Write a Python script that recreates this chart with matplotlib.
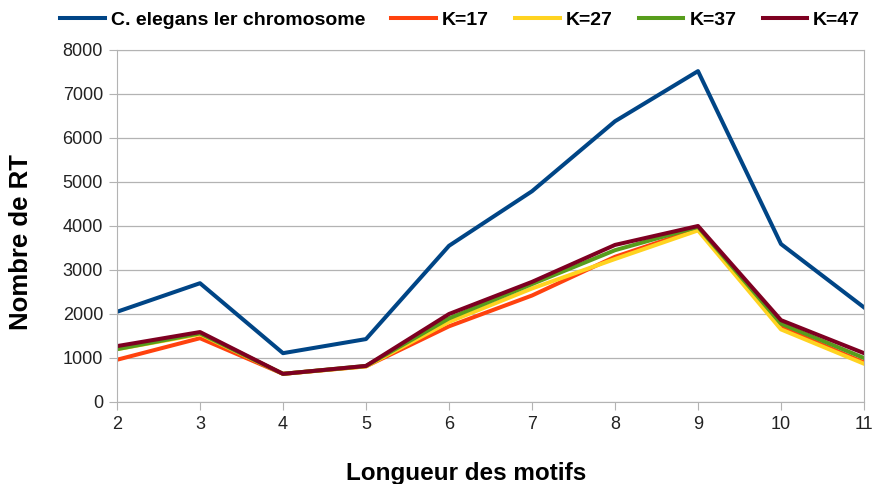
import matplotlib.pyplot as plt

plt.rcParams['font.family'] = ['Liberation Sans', 'DejaVu Sans']

# data
# ---

longueur = [2, 3, 4, 5, 6, 7, 8, 9, 10, 11]

celegans = [2050, 2700, 1110, 1430, 3550, 4790, 6380, 7520, 3590, 2150]
k17 = [960, 1450, 640, 810, 1720, 2420, 3300, 3930, 1700, 900]
k27 = [1200, 1540, 640, 810, 1820, 2580, 3250, 3900, 1650, 870]
k37 = [1200, 1560, 640, 820, 1900, 2680, 3450, 3980, 1780, 1000]
k47 = [1270, 1590, 640, 820, 2000, 2730, 3570, 4000, 1860, 1110]

series = [
    ("C. elegans Ier chromosome", celegans, "#004586"),
    ("K=17", k17, "#ff420e"),
    ("K=27", k27, "#ffd320"),
    ("K=37", k37, "#579d1c"),
    ("K=47", k47, "#7e0021"),
]

# plot
# ---

fig = plt.figure(figsize=(8.73, 4.84), dpi=100)
ax = fig.add_axes([117 / 873, 1 - 402 / 484, (864 - 117) / 873, (402 - 50) / 484])

for label, vals, color in series:
    ax.plot(longueur, vals, color=color, linewidth=2.9, label=label)

ax.set_xlim(2, 11)
ax.set_ylim(0, 8000)
ax.set_xticks(longueur)
ax.set_yticks(range(0, 8001, 1000))
ax.grid(axis='y', color='#b3b3b3', linewidth=0.9)
ax.set_axisbelow(True)
for side in ['top', 'right', 'left', 'bottom']:
    ax.spines[side].set_color('#b3b3b3')
ax.tick_params(axis='both', colors='#b3b3b3', labelcolor='#222222', labelsize=13,
               length=6, pad=4)

ax.set_xlabel("Longueur des motifs", fontsize=17.5, fontweight='bold')
ax.set_ylabel("Nombre de RT", fontsize=18.5, fontweight='bold')
ax.xaxis.set_label_coords(0.467, -0.17)
ax.yaxis.set_label_coords(-0.112, 0.4545)

fig.legend(loc='center', bbox_to_anchor=(0.527, 0.959), ncol=5, frameon=False,
           prop={'weight': 'bold', 'size': 14}, handlelength=2.3,
           columnspacing=1.35, handletextpad=0.3)

plt.savefig("out.png", dpi=100)
plt.close()
